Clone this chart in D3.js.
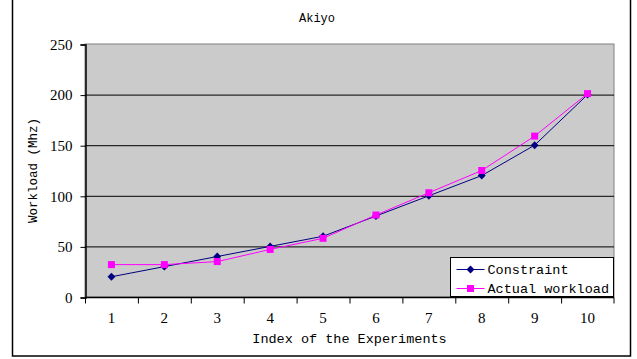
<!DOCTYPE html>
<html>
<head>
<meta charset="utf-8">
<script src="https://cdn.jsdelivr.net/npm/d3@7"></script>
<style>
  body { margin: 0; background: #fff; }
</style>
</head>
<body>
<div id="chart"></div>
<script>
const experiments = [1, 2, 3, 4, 5, 6, 7, 8, 9, 10];
const constraint = [20, 30, 40, 50, 60, 80, 100, 120, 150, 200];
const actualWorkload = [32, 32, 35, 47, 58, 81, 103, 125, 159, 201];
const yTicks = [0, 50, 100, 150, 200, 250];

const width = 637, height = 359;
const margin = {top: 44, right: 23, bottom: 62, left: 85};
const mono = "'Liberation Mono', 'DejaVu Sans Mono', monospace";
const serif = "'Liberation Serif', 'DejaVu Serif', serif";

const svg = d3.select("#chart").append("svg")
    .attr("width", width)
    .attr("height", height);

// outer frame
svg.append("rect")
    .attr("x", 12.5).attr("y", -1)
    .attr("width", 618).attr("height", 357)
    .attr("fill", "#fff")
    .attr("stroke", "#000")
    .attr("stroke-width", 1.5);

const x = d3.scaleBand()
    .domain(experiments)
    .range([margin.left, width - margin.right]);

const y = d3.scaleLinear()
    .domain([0, 250])
    .range([height - margin.bottom, margin.top]);

// plot area
svg.append("rect")
    .attr("x", margin.left).attr("y", margin.top)
    .attr("width", width - margin.right - margin.left)
    .attr("height", y(0) - margin.top)
    .attr("fill", "#cbcbcb")
    .attr("stroke", "#808080")
    .attr("stroke-width", 1);

// gridlines
svg.append("g")
  .selectAll("line")
  .data(yTicks.filter(d => d > 0 && d < 250))
  .join("line")
    .attr("x1", margin.left).attr("x2", width - margin.right)
    .attr("y1", d => y(d) + 0.5).attr("y2", d => y(d) + 0.5)
    .attr("stroke", "#000")
    .attr("stroke-width", 1);

// y axis
const yAxis = svg.append("g")
    .attr("transform", `translate(${margin.left + 0.5},0.5)`)
    .call(d3.axisLeft(y).tickValues(yTicks).tickSize(5).tickPadding(8))
    .call(g => g.select(".domain").attr("stroke", "#000").attr("stroke-width", 1.5));
yAxis.selectAll("text")
    .attr("font-family", serif)
    .attr("font-size", 15)
    .attr("fill", "#000");

// x axis, ticks between categories
const xAxis = svg.append("g")
    .attr("transform", `translate(0,${y(0) + 0.5})`);
xAxis.append("line")
    .attr("x1", margin.left).attr("x2", width - margin.right)
    .attr("stroke", "#000").attr("stroke-width", 1.5);
xAxis.selectAll(".tk")
  .data(experiments.concat([null]))
  .join("line")
    .attr("class", "tk")
    .attr("x1", (d, i) => i < experiments.length ? x(d) + 0.5 : x(experiments[i - 1]) + x.bandwidth())
    .attr("x2", (d, i) => i < experiments.length ? x(d) + 0.5 : x(experiments[i - 1]) + x.bandwidth())
    .attr("y1", 0).attr("y2", 6)
    .attr("stroke", "#000").attr("stroke-width", 1);
xAxis.selectAll("text")
  .data(experiments)
  .join("text")
    .attr("x", d => x(d) + x.bandwidth() / 2)
    .attr("y", 25)
    .attr("text-anchor", "middle")
    .attr("font-family", serif)
    .attr("font-size", 15)
    .text(d => d);

const cx = d => x(d) + x.bandwidth() / 2;
const line = d3.line()
    .x((d, i) => cx(experiments[i]))
    .y(d => y(d));

// constraint series
svg.append("path")
    .datum(constraint)
    .attr("fill", "none")
    .attr("stroke", "#000080")
    .attr("stroke-width", 1)
    .attr("d", line);
svg.append("g")
  .selectAll("path")
  .data(constraint)
  .join("path")
    .attr("d", d3.symbol(d3.symbolDiamond2, 40))
    .attr("transform", (d, i) => `translate(${cx(experiments[i])},${y(d)})`)
    .attr("fill", "#000080");

// actual workload series
svg.append("path")
    .datum(actualWorkload)
    .attr("fill", "none")
    .attr("stroke", "#ff00ff")
    .attr("stroke-width", 1)
    .attr("d", line);
svg.append("g")
  .selectAll("rect")
  .data(actualWorkload)
  .join("rect")
    .attr("x", (d, i) => cx(experiments[i]) - 3.5)
    .attr("y", d => y(d) - 3.5)
    .attr("width", 7).attr("height", 7)
    .attr("fill", "#ff00ff");

// title and axis titles
svg.append("text")
    .attr("x", 317).attr("y", 22)
    .attr("text-anchor", "middle")
    .attr("font-family", mono)
    .attr("font-size", 12)
    .text("Akiyo");

svg.append("text")
    .attr("x", (margin.left + width - margin.right) / 2)
    .attr("y", 343)
    .attr("text-anchor", "middle")
    .attr("font-family", mono)
    .attr("font-size", 13.5)
    .text("Index of the Experiments");

svg.append("text")
    .attr("transform", `translate(37,${(margin.top + y(0)) / 2}) rotate(-90)`)
    .attr("text-anchor", "middle")
    .attr("font-family", mono)
    .attr("font-size", 12.5)
    .text("Workload (Mhz)");

// legend
const legend = svg.append("g").attr("transform", "translate(450.5,257.5)");
legend.append("rect")
    .attr("width", 163).attr("height", 39)
    .attr("fill", "#fff")
    .attr("stroke", "#000").attr("stroke-width", 1);
const items = [
  {name: "Constraint", color: "#000080", marker: "diamond"},
  {name: "Actual workload", color: "#ff00ff", marker: "square"}
];
items.forEach((it, i) => {
  const g = legend.append("g").attr("transform", `translate(0,${12 + i * 19})`);
  g.append("line").attr("x1", 6).attr("x2", 34).attr("stroke", it.color).attr("stroke-width", 1);
  if (it.marker === "diamond") {
    g.append("path").attr("d", d3.symbol(d3.symbolDiamond2, 40)).attr("transform", "translate(20,0)").attr("fill", it.color);
  } else {
    g.append("rect").attr("x", 16.5).attr("y", -3.5).attr("width", 7).attr("height", 7).attr("fill", it.color);
  }
  g.append("text")
    .attr("x", 37).attr("y", 4.5)
    .attr("font-family", mono)
    .attr("font-size", 13.5)
    .text(it.name);
});
</script>
</body>
</html>
